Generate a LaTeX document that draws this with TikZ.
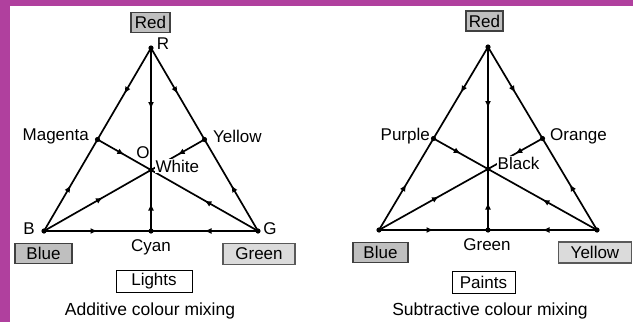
\documentclass[tikz,border=0pt]{standalone}
\usepackage{fontspec}
\setmainfont{Liberation Sans}
\usetikzlibrary{decorations.markings,arrows.meta}
\definecolor{framecol}{RGB}{176,64,158}
\begin{document}
\begin{tikzpicture}[x=1pt,y=-1pt,
  edge/.style={line width=1.7pt},
  midarrow/.style={postaction={decorate},decoration={markings,mark=at position #1 with {\arrow{Latex[length=7pt,width=6pt]}}}},
  midarrow/.default=0.5,
  lbl/.style={font=\fontsize{17}{19}\selectfont, inner sep=1pt},
  captext/.style={font=\fontsize{17.5}{20}\selectfont, inner sep=0pt},
  darkbox/.style={lbl, draw=gray!50!black, line width=1.6pt, fill=gray!50, inner sep=0pt, minimum height=20pt},
  lightbox/.style={lbl, draw=gray!70!black, line width=1.4pt, fill=gray!28, inner sep=0pt, minimum height=21pt},
  whitebox/.style={lbl, draw=black, line width=0.9pt, fill=white, inner sep=0pt, minimum height=22pt},
  dot/.style={fill=black}
]
\useasboundingbox (0,0) rectangle (633,322);
\fill[framecol] (0,0) rectangle (633,322);
\fill[white] (10,6) rectangle (633,322);

% ---------- Left: additive ----------
\coordinate (R) at (151,48);
\coordinate (B) at (44,231);
\coordinate (G) at (258,231);
\coordinate (M) at (97.5,139.5);
\coordinate (Y) at (204.5,139.5);
\coordinate (C) at (151,231);
\coordinate (O) at (151,170);

\draw[edge,midarrow] (R) -- (M);
\draw[edge,midarrow] (B) -- (M);
\draw[edge,midarrow] (R) -- (Y);
\draw[edge,midarrow] (G) -- (Y);
\draw[edge,midarrow] (B) -- (C);
\draw[edge,midarrow] (G) -- (C);
\draw[edge,midarrow] (R) -- (O);
\draw[edge,midarrow=0.45] (C) -- (O);
\draw[edge,midarrow] (M) -- (O);
\draw[edge,midarrow] (Y) -- (O);
\draw[edge,midarrow=0.55] (B) -- (O);
\draw[edge,midarrow] (G) -- (O);
\foreach \p in {R,B,G,M,Y,C,O} \fill[dot] (\p) circle (2.6pt);

\node[darkbox, minimum width=39pt] (redL) at (150.5,22.5) {Red};
\node[lbl] (rL) at (163,44) {R};
\node[lbl, anchor=east] (magL) at (90,136) {Magenta};
\node[lbl, anchor=west] (yelL) at (212,136) {Yellow};
\node[lbl] (oL) at (143,153) {O};
\node[lbl, anchor=west, fill=white, inner sep=0.5pt] (whiteL) at (155,166) {White};
\node[lbl] (bL) at (29,229) {B};
\node[lbl] (gL) at (270,229) {G};
\node[darkbox, minimum width=57pt] (blueL) at (43.5,253.5) {Blue};
\node[lbl] (cyanL) at (151,247) {Cyan};
\node[lightbox, minimum width=72pt] (greenL) at (259,254) {Green};
\node[whitebox, minimum width=76pt] (lights) at (154,281.5) {Lights};
\node[captext] (addcap) at (150,311) {Additive colour mixing};

% ---------- Right: subtractive ----------
\coordinate (R2) at (488,47);
\coordinate (B2) at (379,230);
\coordinate (G2) at (597,230);
\coordinate (P2) at (433.5,138.5);
\coordinate (Or2) at (542.5,138.5);
\coordinate (Gr2) at (488,230);
\coordinate (K2) at (488,169);

\draw[edge,midarrow] (R2) -- (P2);
\draw[edge,midarrow] (B2) -- (P2);
\draw[edge,midarrow] (R2) -- (Or2);
\draw[edge,midarrow] (G2) -- (Or2);
\draw[edge,midarrow] (B2) -- (Gr2);
\draw[edge,midarrow] (G2) -- (Gr2);
\draw[edge,midarrow] (R2) -- (K2);
\draw[edge,midarrow=0.45] (Gr2) -- (K2);
\draw[edge,midarrow] (P2) -- (K2);
\draw[edge,midarrow] (Or2) -- (K2);
\draw[edge,midarrow=0.55] (B2) -- (K2);
\draw[edge,midarrow] (G2) -- (K2);
\foreach \p in {R2,B2,G2,P2,Or2,Gr2,K2} \fill[dot] (\p) circle (2.6pt);

\node[darkbox, minimum width=37pt] (redR) at (484.5,21) {Red};
\node[lbl, anchor=east] (purR) at (431,136) {Purple};
\node[lbl, anchor=west] (oraR) at (549,136) {Orange};
\node[lbl, anchor=west, fill=white, inner sep=0.5pt] (blackR) at (497,163) {Black};
\node[darkbox, minimum width=55pt] (blueR) at (380.5,252.5) {Blue};
\node[lbl] (greenR) at (487,245) {Green};
\node[lightbox, minimum width=73pt] (yellowR) at (595,252.5) {Yellow};
\node[whitebox, minimum width=63pt] (paints) at (483.5,282.5) {Paints};
\node[captext] (subcap) at (490,311) {Subtractive colour mixing};
\end{tikzpicture}
\end{document}
